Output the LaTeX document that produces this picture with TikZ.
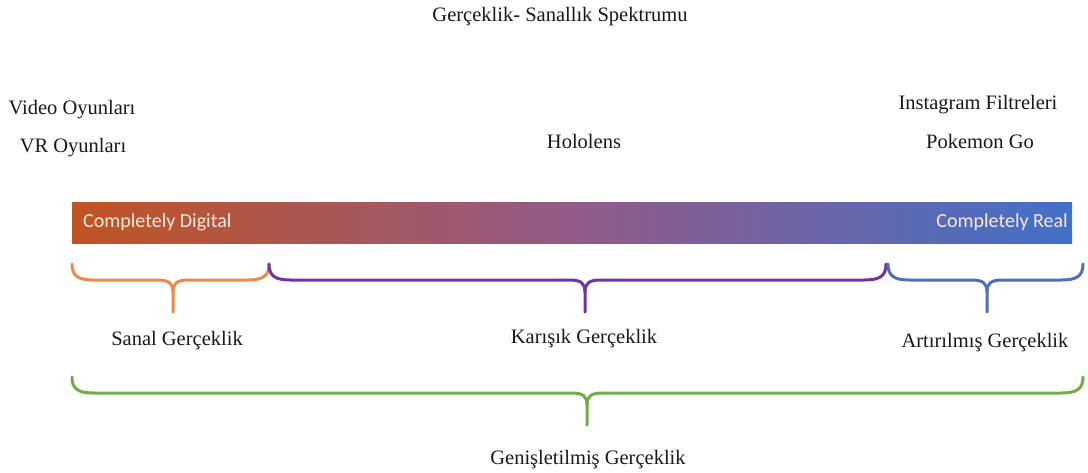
\documentclass[tikz,border=0pt]{standalone}
\usepackage{fontspec}
\setmainfont{Liberation Serif}
\newfontfamily\barfont{Carlito}
\definecolor{barL}{RGB}{192,84,34}
\definecolor{barM}{RGB}{146,90,136}
\definecolor{barR}{RGB}{66,112,200}
\definecolor{brOrange}{RGB}{237,137,77}
\definecolor{brPurple}{RGB}{112,52,160}
\definecolor{brBlue}{RGB}{76,112,190}
\definecolor{brGreen}{RGB}{112,173,71}
\definecolor{txt}{RGB}{25,25,25}
\definecolor{bartxt}{RGB}{252,232,214}
\newcommand\spbrace[7]{% x1,x2,xm,ytop,ybar,ytip,color
  \draw[bracestyle,#7] (#1,#4) .. controls (#1,{#5-4}) and ({#1+6},#5) .. ({#1+22},#5)
    -- ({#3-16},#5) .. controls ({#3-4},#5) and (#3,{#5+3}) .. (#3,{#5+12}) -- (#3,#6);
  \draw[bracestyle,#7] (#3,{#5+12}) .. controls (#3,{#5+3}) and ({#3+4},#5) .. ({#3+16},#5)
    -- ({#2-22},#5) .. controls ({#2-6},#5) and (#2,{#5-4}) .. (#2,#4);
}
\tikzset{
  bracestyle/.style={line width=3pt, line cap=round, line join=round},
  lbl/.style={font=\fontsize{20.5}{22}\selectfont, text=txt, inner sep=0pt},
  bartext/.style={font=\barfont\fontsize{20}{22}\selectfont, text=bartxt, inner sep=0pt}
}
\begin{document}
\begin{tikzpicture}[x=1pt,y=-1pt]
\useasboundingbox[fill=white] (0,0) rectangle (1088,472);
% bar
\shade[left color=barL, right color=barR, middle color=barM] (72,202) rectangle (1072,243);
\node[bartext, anchor=west] (dig) at (83,222) {Completely Digital};
\node[bartext, anchor=east] (real) at (1068,222) {Completely Real};
% top labels
\node[lbl] (title) at (560,17) {Gerçeklik- Sanallık Spektrumu};
\node[lbl] (vid) at (72,110) {Video Oyunları};
\node[lbl] (vr) at (73,148) {VR Oyunları};
\node[lbl] (holo) at (584,141) {Hololens};
\node[lbl] (insta) at (978,105) {Instagram Filtreleri};
\node[lbl] (poke) at (980,141) {Pokemon Go};
% braces
\spbrace{72}{269}{173}{264}{280}{312}{brOrange}
\spbrace{269}{886}{585}{264}{280}{312}{brPurple}
\spbrace{888}{1083}{987}{264}{280}{312}{brBlue}
\spbrace{72}{1083}{587}{377}{393}{425}{brGreen}
% bottom labels
\node[lbl] (sanal) at (177,341) {Sanal Gerçeklik};
\node[lbl] (karisik) at (584,339) {Karışık Gerçeklik};
\node[lbl] (artir) at (985,343) {Artırılmış Gerçeklik};
\node[lbl] (genis) at (588,460) {Genişletilmiş Gerçeklik};
\end{tikzpicture}
\end{document}
